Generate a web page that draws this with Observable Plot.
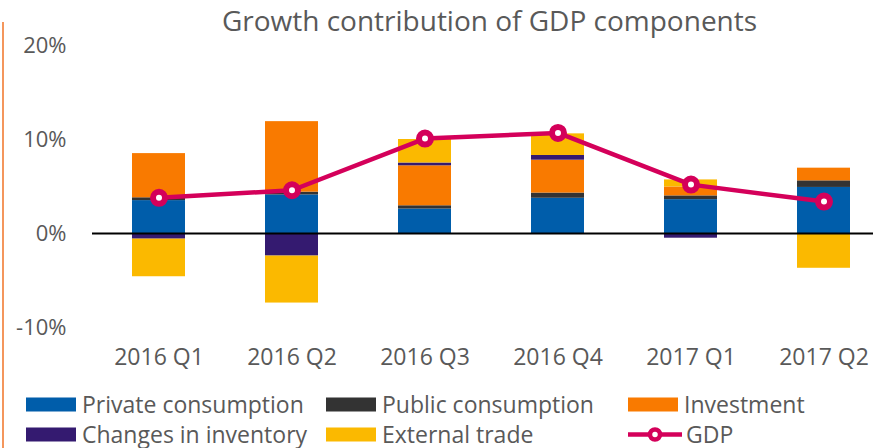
<!DOCTYPE html>
<html><head><meta charset="utf-8">
<script src="https://cdn.jsdelivr.net/npm/d3@7"></script>
<script src="https://cdn.jsdelivr.net/npm/@observablehq/plot@0.6"></script>
<style>
body{margin:0;background:#fff;font-family:"Open Sans",sans-serif;color:#595959;}
#wrap{position:relative;width:873px;height:448px;overflow:hidden;background:#fff;}
#title{position:absolute;left:489.5px;top:20px;transform:translate(-50%,-50%);font-size:28px;white-space:nowrap;color:#595959;}
#edge{position:absolute;left:2px;top:22px;width:2px;height:426px;background:#F4965C;}
#chart{position:absolute;left:0;top:20px;}
.lg{position:absolute;display:flex;align-items:center;font-size:23px;line-height:1;color:#595959;white-space:nowrap;transform:translateY(-50%);}
.sw{width:50px;height:14px;margin-right:6px;}
</style>
</head><body>
<div id="wrap">
<div id="edge"></div>
<div id="title">Growth contribution of GDP components</div>
<div id="chart"></div>
<div id="legend"></div>
</div>
<script>
const quarters = ["2016 Q1","2016 Q2","2016 Q3","2016 Q4","2017 Q1","2017 Q2"];
const privateCons = [3.5, 4.1, 2.6, 3.75, 3.6, 4.9];
const publicCons = [0.3, 0.3, 0.35, 0.55, 0.4, 0.7];
const investment = [4.7, 7.5, 4.25, 3.5, 0.95, 1.35];
const inventory = [-0.6, -2.4, 0.3, 0.5, -0.5, 0];
const externalTrade = [-4.0, -5.0, 2.5, 2.3, 0.75, -3.7];
const gdp = [3.8, 4.6, 10.1, 10.7, 5.2, 3.4];
const seriesNames = ["Private consumption","Public consumption","Investment","Changes in inventory","External trade"];
const seriesColors = ["#005DAA","#333333","#F97A00","#341A70","#FBB900"];
const gdpColor = "#D4005A";
const yTicks = [-10, 0, 10, 20];

const seriesValues = [privateCons, publicCons, investment, inventory, externalTrade];
const rows = [];
quarters.forEach((q, i) => {
  seriesNames.forEach((s, j) => rows.push({quarter: q, series: s, value: seriesValues[j][i]}));
});
const gdpRows = quarters.map((q, i) => ({quarter: q, value: gdp[i]}));

const chart = Plot.plot({
  width: 873,
  height: 365,
  marginLeft: 92,
  marginRight: 0,
  marginTop: 25,
  marginBottom: 58,
  style: {fontFamily: "'Open Sans', sans-serif", color: "#595959", background: "transparent"},
  x: {domain: quarters, range: [92, 890], paddingInner: 0.6, paddingOuter: 0.3, label: null},
  y: {domain: [-10, 20], label: null},
  color: {domain: seriesNames, range: seriesColors},
  marks: [
    Plot.axisX({tickSize: 0, tickPadding: 21, fontSize: 23, label: null}),
    Plot.axisY({ticks: yTicks, tickFormat: d => d + "%", tickSize: 0, tickPadding: 26, fontSize: 22, label: null}),
    Plot.barY(rows, Plot.stackY({x: "quarter", y: "value", fill: "series", z: "series"})),
    Plot.ruleY([0], {stroke: "#000", strokeWidth: 2}),
    Plot.line(gdpRows, {x: "quarter", y: "value", stroke: gdpColor, strokeWidth: 4.5}),
    Plot.dot(gdpRows, {x: "quarter", y: "value", r: 6, fill: "#fff", stroke: gdpColor, strokeWidth: 6})
  ]
});
document.getElementById("chart").appendChild(chart);

const legendItems = [
  {name: seriesNames[0], color: seriesColors[0], x: 26, y: 404},
  {name: seriesNames[1], color: seriesColors[1], x: 326, y: 404},
  {name: seriesNames[2], color: seriesColors[2], x: 628, y: 404},
  {name: seriesNames[3], color: seriesColors[3], x: 26, y: 434},
  {name: seriesNames[4], color: seriesColors[4], x: 326, y: 434},
  {name: "GDP", color: gdpColor, x: 628, y: 434, line: true}
];
const leg = document.getElementById("legend");
legendItems.forEach(it => {
  const d = document.createElement("div");
  d.className = "lg";
  d.style.left = it.x + "px";
  d.style.top = it.y + "px";
  if (it.line) {
    d.innerHTML = `<svg width="54" height="20" style="margin-right:4px"><line x1="0" y1="10" x2="54" y2="10" stroke="${it.color}" stroke-width="4.5"/><circle cx="27" cy="10" r="5" fill="#fff" stroke="${it.color}" stroke-width="4.5"/></svg><span>${it.name}</span>`;
  } else {
    d.innerHTML = `<div class="sw" style="background:${it.color}"></div><span>${it.name}</span>`;
  }
  leg.appendChild(d);
});
</script>
</body></html>
